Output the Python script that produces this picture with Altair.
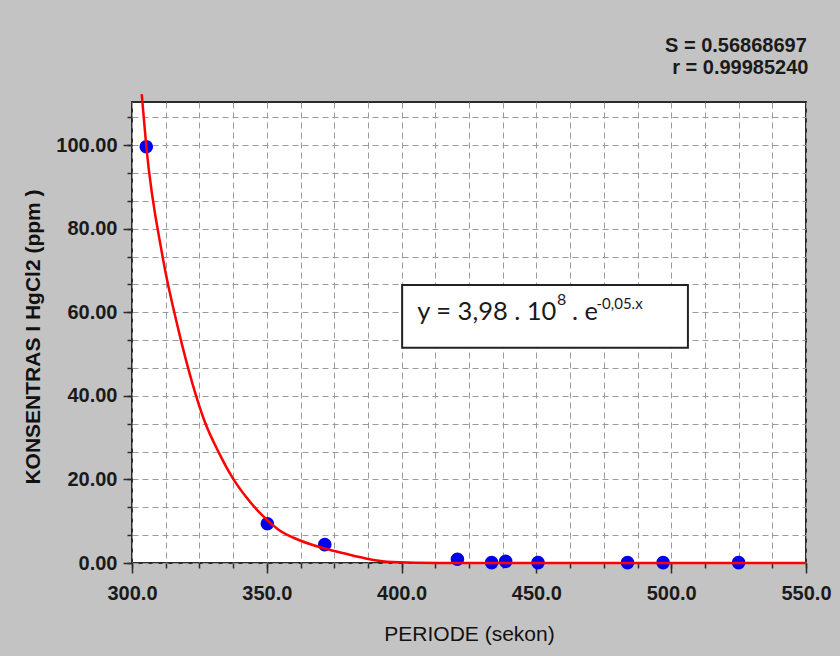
import altair as alt
import pandas as pd

# measured data points (PERIODE in seconds, KONSENTRASI in ppm)
point_x = [305.3, 350.2, 371.5, 420.7, 433.4, 438.6, 450.6, 483.8, 497.0, 525.0]
point_y = [99.6, 9.4, 4.4, 0.9, 0.1, 0.4, 0.1, 0.1, 0.1, 0.1]

# fitted curve
curve_x = [303.6, 305.3, 311.2, 317.4, 322.4, 327.0, 332.3, 337.2, 342.2, 349.6,
           354.5, 361.9, 371.8, 379.3, 386.7, 396.5, 413.9, 480.0, 550.0]
curve_y = [112.2, 99.7, 73.8, 55.3, 43.0, 33.8, 26.3, 20.5, 15.9, 10.6,
           7.9, 5.5, 3.4, 2.2, 1.1, 0.25, 0.0, 0.0, 0.0]

x_major = [300, 350, 400, 450, 500, 550]
x_minor = [300, 312.5, 325, 337.5, 350, 362.5, 375, 387.5, 400, 412.5, 425, 437.5,
           450, 462.5, 475, 487.5, 500, 512.5, 525, 537.5, 550]
y_major = [0, 20, 40, 60, 80, 100]
y_minor = [i * 20 / 3 for i in range(17)]

# equation box and texts (data coordinates)
box_x, box_x2, box_y, box_y2 = [400.2], [506.2], [51.5], [66.5]
eq_text = ["y = 3,98 . 10", "8", ". e", "-0,05.x"]
eq_x = [405.8, 457.6, 463.2, 472.3]
eq_y = [58.2, 61.7, 58.2, 60.8]
eq_size = [25.5, 16, 25.5, 15]
stat_text = ["S = 0.56868697", "r = 0.99985240"]
stat_x = [550.3, 550.9]
stat_y = [122.3, 117.0]

X_DOMAIN = [300, 550]
Y_DOMAIN = [0, 110.3]

pts_df = pd.DataFrame({"x": point_x, "y": point_y})
curve_df = pd.DataFrame({"x": curve_x, "y": curve_y})
box_df = pd.DataFrame({"x": box_x, "x2": box_x2, "y": box_y, "y2": box_y2})
eq_df = pd.DataFrame({"t": eq_text, "x": eq_x, "y": eq_y, "s": eq_size})
stat_df = pd.DataFrame({"t": stat_text, "x": stat_x, "y": stat_y})

xs = alt.Scale(domain=X_DOMAIN, nice=False, zero=False)
ys = alt.Scale(domain=Y_DOMAIN, nice=False, zero=False)

LABEL_FONT = "Liberation Sans"
TICK_COLOR = "#2b2b2b"

minor_x_axis = alt.Axis(orient="bottom", values=x_minor, grid=True, gridDash=[6, 4],
                        gridColor="#9a9a9a", gridWidth=1, tickSize=5, tickColor=TICK_COLOR,
                        tickWidth=1.5, labels=False, title=None, domain=False)
minor_y_axis = alt.Axis(orient="left", values=y_minor, grid=True, gridDash=[6, 4],
                        gridColor="#9a9a9a", gridWidth=1, tickSize=5, tickColor=TICK_COLOR,
                        tickWidth=1.5, labels=False, title=None, domain=False)
major_x_axis = alt.Axis(orient="bottom", values=x_major, grid=False, tickSize=10,
                        tickColor=TICK_COLOR, tickWidth=1.5, domain=False, format=".1f",
                        labelFont=LABEL_FONT, labelFontSize=20, labelFontWeight="bold",
                        labelColor="#1a1a1a", labelBaseline="top", labelPadding=10,
                        labelFlush=False, labelOverlap=False,
                        title="PERIODE (sekon)", titleFont=LABEL_FONT, titleFontSize=21,
                        titleFontWeight="normal", titleColor="#111111",
                        titleBaseline="alphabetic", titleY=77)
major_y_axis = alt.Axis(orient="left", values=y_major, grid=False, tickSize=9,
                        tickColor=TICK_COLOR, tickWidth=1.5, domain=False, format=".2f",
                        labelFont=LABEL_FONT, labelFontSize=20, labelFontWeight="bold",
                        labelColor="#1a1a1a", labelBaseline="middle", labelPadding=6,
                        labelFlush=False, labelOverlap=False,
                        title="KONSENTRAS I HgCl2 (ppm )", titleFont=LABEL_FONT,
                        titleFontSize=21, titleFontWeight="bold", titleColor="#111111",
                        titleAngle=270, titleAlign="center", titleBaseline="alphabetic",
                        titleX=-93, titleY=234.5)

pts = alt.Chart(pts_df).mark_point(filled=True, size=185, color="#0000ee", opacity=1).encode(
    x=alt.X("x:Q", scale=xs, axis=minor_x_axis),
    y=alt.Y("y:Q", scale=ys, axis=minor_y_axis),
)

curve = alt.Chart(curve_df).mark_line(color="#ff0000", strokeWidth=2.5,
                                      interpolate="monotone", clip=False).encode(
    x=alt.X("x:Q", scale=xs, axis=major_x_axis),
    y=alt.Y("y:Q", scale=ys, axis=major_y_axis),
)

box = alt.Chart(box_df).mark_rect(fill="white", stroke="#222222", strokeWidth=2).encode(
    x=alt.X("x:Q", scale=xs, axis=None), x2="x2:Q",
    y=alt.Y("y:Q", scale=ys, axis=None), y2="y2:Q",
)

eq = alt.Chart(eq_df).mark_text(align="left", baseline="alphabetic", font="Lato",
                                color="#1a1a1a").encode(
    x=alt.X("x:Q", scale=xs, axis=None),
    y=alt.Y("y:Q", scale=ys, axis=None),
    text="t:N",
    size=alt.Size("s:Q", scale=None, legend=None),
)

stats = alt.Chart(stat_df).mark_text(align="right", baseline="alphabetic", font=LABEL_FONT,
                                     fontSize=20, fontWeight="bold", color="#1a1a1a").encode(
    x=alt.X("x:Q", scale=xs, axis=None),
    y=alt.Y("y:Q", scale=ys, axis=None),
    text="t:N",
)

chart = alt.layer(pts, curve, box, eq, stats).resolve_axis(
    x="independent", y="independent"
).properties(
    width=674, height=461,
    autosize=alt.AutoSizeParams(type="none"),
    padding={"left": 132, "top": 102, "right": 34, "bottom": 93},
    background="#c3c3c3",
).configure_view(fill="white", stroke="#2b2b2b", strokeWidth=2)

chart.save("out.html", embed_options={"renderer": "svg", "actions": False})
